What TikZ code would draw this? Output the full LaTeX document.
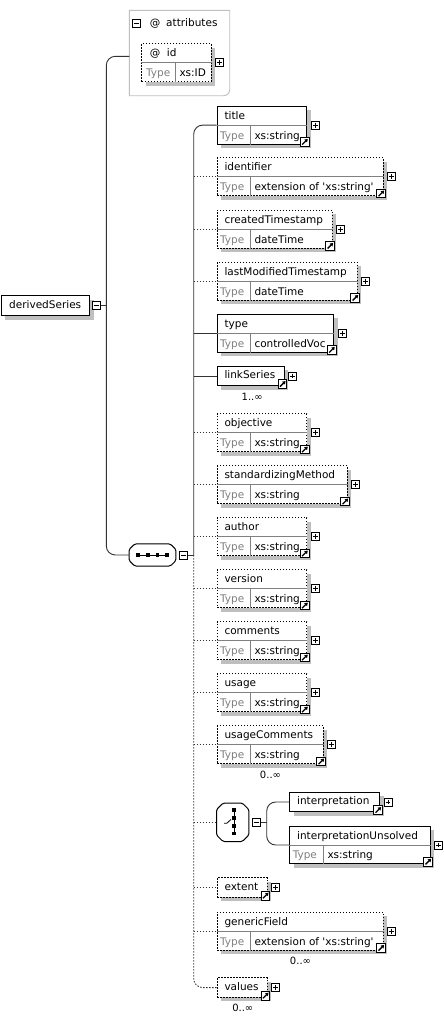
\documentclass[tikz,border=0pt]{standalone}
\usepackage{fontspec}
\setmainfont{DejaVu Sans}
\usetikzlibrary{arrows.meta,calc,shadows}
\tikzset{box/.style={draw, fill=white, line width=1pt, inner sep=0pt,
    drop shadow={shadow xshift=4pt, shadow yshift=-4pt, fill=black!25, opacity=1}},
  opt/.style={dash pattern=on 1.5pt off 1.5pt},
  sep/.style={draw=black!50, line width=0.8pt},
  lbl/.style={anchor=base west, inner sep=0pt},
  tlbl/.style={lbl, text=black!50},
  link/.style={draw=black!80, line width=0.9pt},
  mult/.style={inner sep=0pt, font=\fontsize{10}{12}\selectfont},
  plus/.style={draw, fill=white, minimum size=8pt, inner sep=0pt, line width=0.8pt,
    path picture={\draw[line width=0.8pt]
      ([xshift=1.6pt]path picture bounding box.west) -- ([xshift=-1.6pt]path picture bounding box.east)
      ([yshift=-1.6pt]path picture bounding box.north) -- ([yshift=1.6pt]path picture bounding box.south);}},
  minus/.style={draw, fill=white, minimum size=8pt, inner sep=0pt, line width=0.8pt,
    path picture={\draw[line width=0.8pt]
      ([xshift=1.6pt]path picture bounding box.west) -- ([xshift=-1.6pt]path picture bounding box.east);}},
  jump/.style={draw, fill=white, minimum size=8.5pt, inner sep=0pt, line width=0.8pt,
    path picture={\draw[line width=1.3pt, -{Triangle[length=3pt,width=3.8pt]}]
      ([shift={(1.7pt,1.7pt)}]path picture bounding box.south west) -- ([shift={(-1.2pt,-1.2pt)}]path picture bounding box.north east);}},
  grp/.style={minimum width=#1, inner sep=0pt},
  octshad/.style={fill=black!25, rounded corners=1.5pt},
  octa/.style={draw, fill=white, line width=1pt, rounded corners=1.5pt}}

% element with a type row: name, top left, width, label, type, style
\newcommand\xel[6]{%
  \node[box,#6,minimum width=#3,minimum height=37.8pt,anchor=north west] (#1) at (#2) {};
  \draw[sep] (#1.west) -- (#1.east);
  \draw[sep] ($(#1.west)+(33.6,0)$) -- ($(#1.south west)+(33.6,0)$);
  \node[lbl] (#1-n) at ($(#1.north west)+(7.6,13.4)$) {#4};
  \node[tlbl] (#1-k) at ($(#1.south west)+(3.3,-5.4)$) {Type};
  \node[lbl] (#1-v) at ($(#1.south west)+(37.6,-5.4)$) {#5};
  \node[plus] (#1-p) at ($(#1.east)+(8,0)$) {};
  \node[jump] (#1-j) at ($(#1.south east)+(-2.6,-2.5)$) {};}
% element without a type row: name, top left, width, label, style
\newcommand\xref[5]{%
  \node[box,#5,minimum width=#3,minimum height=19.6pt,anchor=north west] (#1) at (#2) {};
  \node[lbl] (#1-n) at ($(#1.north west)+(7.6,13.2)$) {#4};
  \node[plus] (#1-p) at ($(#1.east)+(7.6,0)$) {};
  \node[jump] (#1-j) at ($(#1.south east)+(-2.2,-2.2)$) {};}
% octagon with shadow round a node: node, chamfer
\newcommand\octagon[2]{%
  \foreach \s/\st in {4/octshad,0/octa}
    \path[\st,shift={(\s,\s)}] ($(#1.north west)+(#2,0)$) -- ($(#1.north east)+(-#2,0)$)
      -- ($(#1.north east)+(0,#2)$) -- ($(#1.south east)+(0,-#2)$)
      -- ($(#1.south east)+(-#2,0)$) -- ($(#1.south west)+(#2,0)$)
      -- ($(#1.south west)+(0,-#2)$) -- ($(#1.north west)+(0,#2)$) -- cycle;}

\begin{document}
\begin{tikzpicture}[x=1pt,y=-1pt,font=\fontsize{10.5}{12}\selectfont]
  \path[use as bounding box, fill=white] (0,0) rectangle (444,1017);

  % attributes group
  \node[minimum width=100pt, minimum height=85pt, inner sep=0pt, anchor=north west] (attrs) at (129.3,10.3) {};
  \draw[draw=black!25, line width=0.9pt] (attrs.north west) -- (attrs.north east)
    -- ([yshift=6pt]attrs.south east) arc[start angle=0, end angle=-90, radius=6pt]
    -- (attrs.south west) -- cycle;
  \node[minus] (attrs-m) at (136.7,23.3) {};
  \node[lbl] (attrs-at) at (149.7,27) {@};
  \node[lbl] (attrs-n) at (166,27) {attributes};
  \node[box,opt,minimum width=69.4pt,minimum height=37.7pt,anchor=north west] (id) at (141.3,43.3) {};
  \draw[sep] (id.west) -- (id.east);
  \draw[sep] ($(id.west)+(34,0)$) -- ($(id.south west)+(34,0)$);
  \node[lbl] (id-at) at ($(id.north west)+(8.4,13.4)$) {@};
  \node[lbl] (id-n) at ($(id.north west)+(25.4,13.4)$) {id};
  \node[tlbl] (id-k) at ($(id.south west)+(4.7,-5.4)$) {Type};
  \node[lbl] (id-v) at ($(id.south west)+(38,-5.4)$) {xs:ID};
  \node[plus] (id-p) at ($(id.east)+(7.6,0)$) {};

  % root
  \node[box,minimum width=88.4pt,minimum height=20pt,anchor=north west] (ds) at (0.8,295.3) {};
  \node[lbl] (ds-n) at ($(ds.north west)+(8.2,13.6)$) {derivedSeries};
  \node[minus] (ds-m) at (96.7,305.3) {};

  % sequence
  \node[grp=46.4pt,minimum height=21.7pt] (seq) at (152.5,555) {};
  \octagon{seq}{5.5}
  \draw[line width=1pt] ($(seq.center)+(-14.5,0)$) -- ($(seq.center)+(14.5,0)$);
  \foreach \dx in {-14.5,-4.8,4.8,14.5}
    \fill ($(seq.center)+(\dx,0)$) +(-1.8,-1.8) rectangle +(1.8,1.8);
  \node[minus] (seq-m) at ($(seq.east)+(7.6,0)$) {};

  \coordinate (dbus) at (106.3,305.3);
  \coordinate (attin) at (129.3,56.3);
  \draw[link] (ds-m) -- (dbus);
  \draw[link,rounded corners=9pt] (attin) -| (dbus) |- (seq.west);

  % children of the sequence
  \xel{title}{216.7,105.7}{89.6pt}{title}{xs:string}{}
  \xel{identifier}{216.7,157.3}{166pt}{identifier}{extension of \textquotesingle xs:string\textquotesingle}{opt}
  \xel{created}{216.7,209.7}{115pt}{createdTimestamp}{dateTime}{opt}
  \xel{lastmod}{216.7,261.7}{140pt}{lastModifiedTimestamp}{dateTime}{opt}
  \xel{type}{216.7,313.7}{116.6pt}{type}{controlledVoc}{}
  \xref{link}{216.7,365.7}{67pt}{linkSeries}{}
  \node[mult] (link-c) at ($(link.south)+(1.5,10.7)$) {1..∞};
  \xel{objective}{216.7,413.3}{89.6pt}{objective}{xs:string}{opt}
  \xel{stdmethod}{216.7,465.3}{130pt}{standardizingMethod}{xs:string}{opt}
  \xel{author}{216.7,517.3}{89.6pt}{author}{xs:string}{opt}
  \xel{version}{216.7,569.3}{89.6pt}{version}{xs:string}{opt}
  \xel{comments}{216.7,621.3}{89.6pt}{comments}{xs:string}{opt}
  \xel{usage}{216.7,673.3}{89.6pt}{usage}{xs:string}{opt}
  \xel{usagecom}{216.7,725.3}{106pt}{usageComments}{xs:string}{opt}
  \node[mult] (usagecom-c) at ($(usagecom.south)+(0.3,10.7)$) {0..∞};

  % choice
  \node[grp=32pt,minimum height=38pt] (choice) at (232.7,822.3) {};
  \octagon{choice}{6.5}
  \draw[line width=1pt] ($(choice.center)+(1.3,-12.6)$) -- ($(choice.center)+(1.3,11)$);
  \foreach \dy in {-12.6,-4.3,3.4,11}
    \fill ($(choice.center)+(1.3,\dy)$) +(-1.8,-1.8) rectangle +(1.8,1.8);
  \draw[line width=0.8pt] ($(choice.center)+(-8.7,1)$) -- ++(2.7,0) -- ++(4.3,-3.8);
  \node[minus] (choice-m) at ($(choice.east)+(7.6,0)$) {};
  \xref{interp}{289.3,791.7}{90pt}{interpretation}{}
  \node[box,minimum width=140.4pt,minimum height=37.6pt,anchor=north west] (interpU) at (289.3,825.7) {};
  \draw[sep] (interpU.west) -- (interpU.east);
  \draw[sep] ($(interpU.west)+(34,0)$) -- ($(interpU.south west)+(34,0)$);
  \node[lbl] (interpU-n) at ($(interpU.north west)+(7.6,13.4)$) {interpretationUnsolved};
  \node[tlbl] (interpU-k) at ($(interpU.south west)+(3.3,-5.4)$) {Type};
  \node[lbl] (interpU-v) at ($(interpU.south west)+(38,-5.4)$) {xs:string};
  \node[plus] (interpU-p) at ($(interpU.east)+(8,0)$) {};
  \node[jump] (interpU-j) at ($(interpU.south east)+(-2.6,-2.5)$) {};
  \coordinate (cbus) at (266.7,822.3);
  \draw[link] (choice-m) -- (cbus);
  \draw[link,rounded corners=9pt] (interp.west) -| (cbus) |- (interpU.west);

  \xref{extent}{216.7,877.3}{50pt}{extent}{opt}
  \xel{generic}{216.7,911.7}{166pt}{genericField}{extension of \textquotesingle xs:string\textquotesingle}{opt}
  \node[mult] (generic-c) at ($(generic.south)+(0.3,10.7)$) {0..∞};
  \xref{values}{216.7,977.3}{50pt}{values}{opt}
  \node[mult] (values-c) at ($(values.south)+(0.6,10.4)$) {0..∞};

  % sequence bus
  \coordinate (sbus) at (193.7,555);
  \draw[link] (seq-m) -- (sbus);
  \draw[link,rounded corners=9pt] (title.west) -| (sbus);
  \draw[link,opt,rounded corners=9pt] (sbus) |- (values.west);
  \foreach \e in {type,link}
    \draw[link] (sbus |- \e.west) -- (\e.west);
  \foreach \e in {identifier,created,lastmod,objective,stdmethod,author,version,comments,usage,usagecom,choice,extent,generic}
    \draw[link,opt] (sbus |- \e.west) -- (\e.west);
\end{tikzpicture}
\end{document}
